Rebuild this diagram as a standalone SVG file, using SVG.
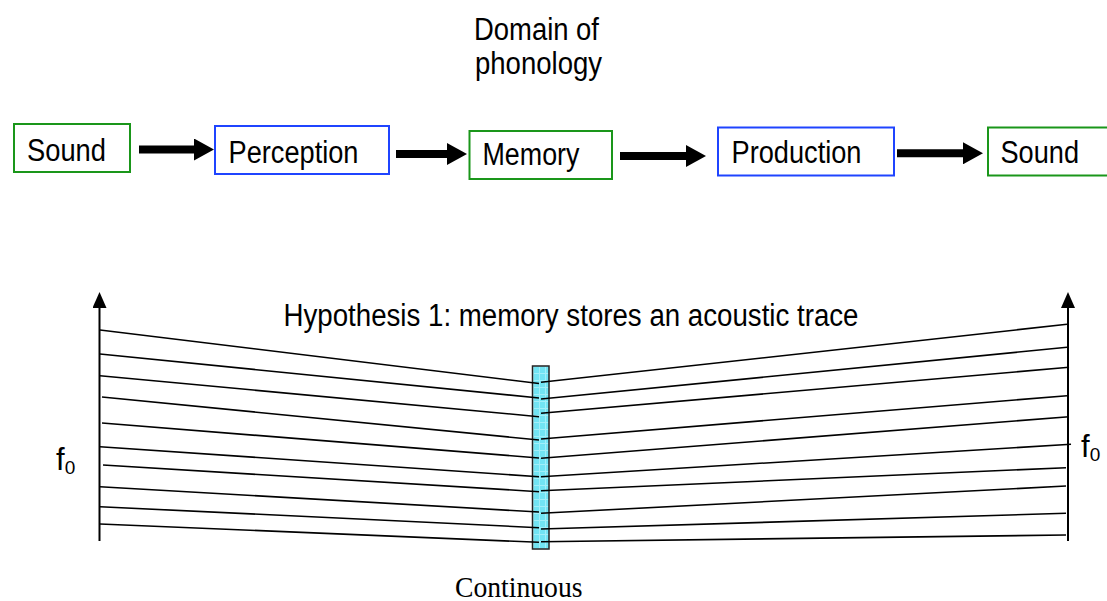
<svg xmlns="http://www.w3.org/2000/svg" width="1107" height="601" viewBox="0 0 1107 601">
  <style>
    .lbl { font-family: "Liberation Sans", Arial, Helvetica, sans-serif; font-size: 31px; fill: #000; }
    .serif { font-family: "Liberation Serif", "Times New Roman", serif; font-size: 29px; fill: #000; }
    .sub { font-size: 19px; }
    .boxg { fill: #fff; stroke: #1a961a; stroke-width: 2; }
    .boxb { fill: #fff; stroke: #1f44ff; stroke-width: 2; }
    .flow { stroke: #000; stroke-width: 8; fill: none; marker-end: url(#head); }
    .trace { stroke: #000; stroke-width: 1.6; fill: none; }
    .axis { stroke: #000; stroke-width: 2; fill: none; marker-end: url(#axhead); }
  </style>
  <defs>
    <marker id="head" markerUnits="userSpaceOnUse" viewBox="0 0 20 22" refX="0" refY="11" markerWidth="20" markerHeight="22" orient="auto">
      <path d="M0,0 L20,11 L0,22 Z" fill="#000"/>
    </marker>
    <marker id="axhead" markerUnits="userSpaceOnUse" viewBox="0 0 16 14" refX="0" refY="7" markerWidth="16" markerHeight="14" orient="auto">
      <path d="M0,0 L16,7 L0,14 Z" fill="#000"/>
    </marker>
    <pattern id="grid" patternUnits="userSpaceOnUse" x="533" y="366" width="6" height="7">
      <rect width="6" height="7" fill="#72e4f3"/>
      <path d="M0,0.5 H6 M0.5,0 V7" stroke="#a2eff9" stroke-width="1"/>
    </pattern>
  </defs>

  <!-- title above the flow -->
  <g id="title">
    <text class="lbl" x="474" y="40" textLength="125" lengthAdjust="spacingAndGlyphs">Domain of</text>
    <text class="lbl" x="475" y="74" textLength="127" lengthAdjust="spacingAndGlyphs">phonology</text>
  </g>

  <!-- flow nodes -->
  <g id="node-sound-in">
    <rect class="boxg" x="14" y="124" width="116" height="48"/>
    <text class="lbl" x="27" y="161" textLength="79" lengthAdjust="spacingAndGlyphs">Sound</text>
  </g>
  <g id="node-perception">
    <rect class="boxb" x="215" y="126" width="174" height="48"/>
    <text class="lbl" x="228.5" y="163" textLength="130" lengthAdjust="spacingAndGlyphs">Perception</text>
  </g>
  <g id="node-memory">
    <rect class="boxg" x="469.5" y="131" width="142.5" height="48"/>
    <text class="lbl" x="482.5" y="165" textLength="97" lengthAdjust="spacingAndGlyphs">Memory</text>
  </g>
  <g id="node-production">
    <rect class="boxb" x="718" y="127.5" width="176" height="48"/>
    <text class="lbl" x="731.5" y="163" textLength="130" lengthAdjust="spacingAndGlyphs">Production</text>
  </g>
  <g id="node-sound-out">
    <rect class="boxg" x="988" y="127.5" width="130" height="48"/>
    <text class="lbl" x="1000.5" y="163" textLength="78.5" lengthAdjust="spacingAndGlyphs">Sound</text>
  </g>

  <!-- flow connectors -->
  <g id="connectors">
    <line class="flow" x1="139" y1="149.5" x2="194" y2="149.5"/>
    <line class="flow" x1="396" y1="154" x2="447" y2="154"/>
    <line class="flow" x1="620" y1="156" x2="686" y2="156"/>
    <line class="flow" x1="897" y1="153.3" x2="963" y2="153.3"/>
  </g>

  <!-- acoustic trace plot -->
  <g id="hypothesis">
    <text class="lbl" x="283.5" y="325.5" textLength="575" lengthAdjust="spacingAndGlyphs">Hypothesis 1: memory stores an acoustic trace</text>
  </g>

  <g id="axis-left">
    <line class="axis" x1="99.5" y1="541" x2="99.5" y2="308"/>
    <text class="lbl" x="56" y="470" font-size="28">f<tspan class="sub" dy="4">0</tspan></text>
  </g>
  <g id="axis-right">
    <line class="axis" x1="1068" y1="541" x2="1068" y2="308"/>
    <text class="lbl" x="1081" y="456.5" font-size="28">f<tspan class="sub" dy="4">0</tspan></text>
  </g>

  <g id="memory-slice">
    <rect x="532.5" y="366" width="16.5" height="183" fill="url(#grid)" stroke="#222" stroke-width="1.5"/>
  </g>

  <g id="traces-left">
    <line class="trace" x1="100" y1="330" x2="539" y2="383.5"/>
    <line class="trace" x1="100" y1="354" x2="539" y2="398"/>
    <line class="trace" x1="100" y1="375.7" x2="539" y2="416.7"/>
    <line class="trace" x1="102" y1="397" x2="539" y2="440"/>
    <line class="trace" x1="102" y1="423" x2="539" y2="458"/>
    <line class="trace" x1="100" y1="446.7" x2="539" y2="476.7"/>
    <line class="trace" x1="103" y1="465" x2="539" y2="491.7"/>
    <line class="trace" x1="100" y1="486.7" x2="539" y2="512"/>
    <line class="trace" x1="100" y1="506.7" x2="539" y2="527.7"/>
    <line class="trace" x1="100" y1="524" x2="539" y2="542.3"/>
  </g>
  <g id="traces-right">
    <line class="trace" x1="541" y1="382.3" x2="1067" y2="324.3"/>
    <line class="trace" x1="541" y1="399" x2="1067" y2="347.3"/>
    <line class="trace" x1="541" y1="413.3" x2="1069" y2="367.3"/>
    <line class="trace" x1="541" y1="439" x2="1067" y2="395.7"/>
    <line class="trace" x1="541" y1="458.3" x2="1069" y2="416.7"/>
    <line class="trace" x1="541" y1="476.7" x2="1071" y2="444.3"/>
    <line class="trace" x1="541" y1="490.7" x2="1066" y2="467.7"/>
    <line class="trace" x1="541" y1="513.3" x2="1066" y2="486"/>
    <line class="trace" x1="541" y1="529" x2="1066" y2="513.3"/>
    <line class="trace" x1="541" y1="541.7" x2="1066" y2="535"/>
  </g>

  <g id="caption">
    <text class="serif" x="455" y="597" textLength="127.5" lengthAdjust="spacingAndGlyphs">Continuous</text>
  </g>
</svg>
